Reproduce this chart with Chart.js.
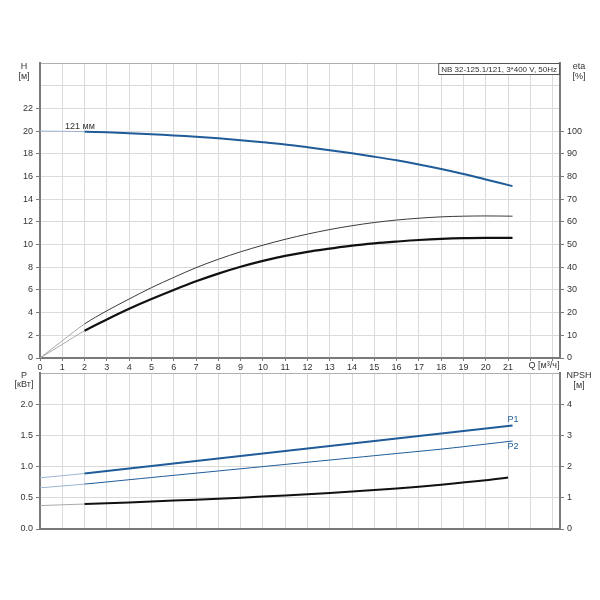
<!DOCTYPE html>
<html>
<head>
<meta charset="utf-8">
<script src="https://cdn.jsdelivr.net/npm/chart.js@4.4.1/dist/chart.umd.min.js"></script>
<style>
  html, body { margin: 0; padding: 0; background: #fff; }
  #wrap { position: relative; width: 600px; height: 600px; }
  #wrap canvas { position: absolute; left: 0; top: 0; }
</style>
</head>
<body>
<div id="wrap">
  <canvas id="curvaH" width="600" height="600"></canvas>
  <canvas id="curvaP" width="600" height="600"></canvas>
</div>
<script>
// Q axis values (m3/h)
const qTop = [0, 1, 2, 3, 4, 5, 6, 7, 8, 9, 10, 11, 12, 13, 14, 15, 16, 17, 18, 19, 20, 21.2];
// H curve, 121 mm impeller (m)
const head = [20, 19.98, 19.95, 19.89, 19.81, 19.72, 19.62, 19.5, 19.36, 19.2, 19.02, 18.82, 18.58, 18.32, 18.04, 17.74, 17.42, 17.06, 16.66, 16.22, 15.74, 15.15];
// eta curves (%)
const etaThin = [0, 7.6, 15, 20.8, 26, 31, 35.5, 39.8, 43.5, 46.8, 49.7, 52.3, 54.6, 56.6, 58.3, 59.7, 60.8, 61.6, 62.2, 62.5, 62.6, 62.5];
const etaThick = [0, 6, 12, 17, 21.7, 26, 30, 33.8, 37.2, 40.2, 42.8, 45, 46.8, 48.2, 49.5, 50.5, 51.3, 52, 52.5, 52.8, 52.9, 52.9];

// power curves (kW)
const qPow = [0, 2, 4, 6, 8, 10, 12, 14, 16, 18, 20, 21.2];
const p1 = [0.82, 0.89, 0.97, 1.05, 1.13, 1.21, 1.29, 1.37, 1.45, 1.53, 1.61, 1.66];
const p2 = [0.66, 0.72, 0.79, 0.86, 0.93, 1.00, 1.07, 1.14, 1.21, 1.28, 1.36, 1.41];
// NPSH (m)
const qNpsh = [0, 2, 4, 6, 8, 10, 12, 14, 16, 18, 20, 21];
const npsh = [0.75, 0.80, 0.85, 0.91, 0.97, 1.04, 1.11, 1.20, 1.30, 1.42, 1.56, 1.65];

const qTicks = [0, 1, 2, 3, 4, 5, 6, 7, 8, 9, 10, 11, 12, 13, 14, 15, 16, 17, 18, 19, 20, 21, 22, 23];

(function() {
    const AZUL = '#1f5c99';
    const AZUL_CLARO = '#9bb4cf';
    const GRIS_CLARO = '#a8a8a8';
    const GRID = '#dadada';
    const BORDE = '#7a7a7a';
    const TXT = '#333';

    Chart.defaults.font.family = '"Liberation Sans", Arial, sans-serif';
    Chart.defaults.font.size = 9;
    Chart.defaults.color = TXT;

    const pts = (xs, ys) => xs.map((x, i) => ({ x: x, y: ys[i] }));

    // the part below Q = 2 is drawn lighter and thinner
    const tramo = (light) => ({
        borderColor: c => c.p1.parsed.x <= 2 ? light : undefined,
        borderWidth: c => c.p1.parsed.x <= 2 ? 1 : undefined
    });

    const linea = (data, axis, color, width, light) => ({
        data: data,
        yAxisID: axis,
        borderColor: color,
        borderWidth: width,
        pointRadius: 0,
        fill: false,
        tension: 0.35,
        segment: tramo(light)
    });

    const fixW = w => (axis) => { axis.width = w; };
    const fixH = h => (axis) => { axis.height = h; };

    const ejeQ = (showLabels, h) => ({
        type: 'linear',
        min: 0,
        max: 23.33,
        afterBuildTicks: axis => { axis.ticks = qTicks.map(v => ({ value: v })); },
        afterFit: fixH(h),
        grid: { color: GRID, tickLength: showLabels ? 3 : 0, tickColor: BORDE },
        border: { color: BORDE, width: 2 },
        ticks: {
            display: showLabels,
            autoSkip: false,
            maxRotation: 0,
            padding: 1,
            callback: v => v <= 21 ? v : ''
        }
    });

    const ejeY = (pos, max, step, lastLabel, fmt, onArea, maxOfGrid) => ({
        type: 'linear',
        position: pos,
        min: 0,
        max: max,
        afterFit: fixW(40),
        grid: {
            drawOnChartArea: onArea,
            color: c => c.tick && c.tick.value >= maxOfGrid ? '#b0b0b0' : GRID,
            tickLength: 4,
            tickColor: c => c.tick && c.tick.value > lastLabel ? 'rgba(0,0,0,0)' : BORDE
        },
        border: { color: BORDE, width: 2 },
        ticks: {
            stepSize: step,
            padding: 3,
            callback: v => v <= lastLabel + 1e-9 ? fmt(v) : ''
        }
    });

    const textos = (items) => ({
        id: 'textos',
        afterDraw(chart) {
            const ctx = chart.ctx;
            ctx.save();
            items.forEach(t => {
                ctx.font = (t.size || 9) + 'px "Liberation Sans", Arial, sans-serif';
                ctx.fillStyle = t.color || TXT;
                ctx.textAlign = t.align || 'center';
                ctx.textBaseline = 'middle';
                if (t.box) {
                    const w = ctx.measureText(t.text).width + 6;
                    ctx.fillStyle = '#fff';
                    ctx.fillRect(t.x - w, t.y - 6, w, 12);
                    ctx.strokeStyle = '#555';
                    ctx.lineWidth = 1;
                    ctx.strokeRect(t.x - w + 0.5, t.y - 5.5, w - 1, 11);
                    ctx.fillStyle = TXT;
                    ctx.textAlign = 'left';
                    ctx.fillText(t.text, t.x - w + 3, t.y + 0.5);
                } else {
                    ctx.fillText(t.text, t.x, t.y);
                }
            });
            ctx.restore();
        }
    });

    const renderTop = () => {
        new Chart(document.getElementById('curvaH'), {
            type: 'line',
            data: {
                datasets: [
                    linea(pts(qTop, head), 'yH', AZUL, 2, AZUL_CLARO),
                    linea(pts(qTop, etaThin), 'yEta', '#3a3a3a', 1, GRIS_CLARO),
                    linea(pts(qTop, etaThick), 'yEta', '#111', 2.2, GRIS_CLARO)
                ]
            },
            options: {
                responsive: false,
                animation: false,
                layout: { padding: { top: 63, left: 0, right: 0, bottom: 228 } },
                plugins: { legend: { display: false }, tooltip: { enabled: false } },
                scales: {
                    x: ejeQ(true, 14),
                    yH: ejeY('left', 26, 2, 22, v => v, true, 26),
                    yEta: ejeY('right', 130, 10, 100, v => v, false, 130)
                }
            },
            plugins: [textos([
                { text: 'H', x: 24, y: 67 },
                { text: '[м]', x: 24, y: 77 },
                { text: 'eta', x: 579, y: 67 },
                { text: '[%]', x: 579, y: 77 },
                { text: '121 мм', x: 80, y: 127 },
                { text: 'Q [м³/ч]', x: 544, y: 366 },
                { text: 'NB 32-125.1/121, 3*400 V, 50Hz', x: 560, y: 69, box: true, size: 8 }
            ])]
        });
    };

    const renderBottom = () => {
        new Chart(document.getElementById('curvaP'), {
            type: 'line',
            data: {
                datasets: [
                    linea(pts(qPow, p1), 'yP', AZUL, 2, AZUL_CLARO),
                    linea(pts(qPow, p2), 'yP', AZUL, 1, AZUL_CLARO),
                    linea(pts(qNpsh, npsh), 'yN', '#111', 2, GRIS_CLARO)
                ]
            },
            options: {
                responsive: false,
                animation: false,
                layout: { padding: { top: 373, left: 0, right: 0, bottom: 71 } },
                plugins: { legend: { display: false }, tooltip: { enabled: false } },
                scales: {
                    x: ejeQ(false, 0),
                    yP: ejeY('left', 2.5, 0.5, 2.0, v => v.toFixed(1), true, 2.5),
                    yN: ejeY('right', 5, 1, 4, v => v, false, 5)
                }
            },
            plugins: [textos([
                { text: 'P', x: 24, y: 376 },
                { text: '[кВт]', x: 24, y: 385 },
                { text: 'NPSH', x: 579, y: 376 },
                { text: '[м]', x: 579, y: 386 },
                { text: 'P1', x: 513, y: 420, color: AZUL },
                { text: 'P2', x: 513, y: 447, color: AZUL }
            ])]
        });
    };

    if (document.readyState === 'complete') {
        renderTop();
        renderBottom();
    } else {
        window.addEventListener('load', () => { renderTop(); renderBottom(); });
    }
})();
</script>
</body>
</html>
